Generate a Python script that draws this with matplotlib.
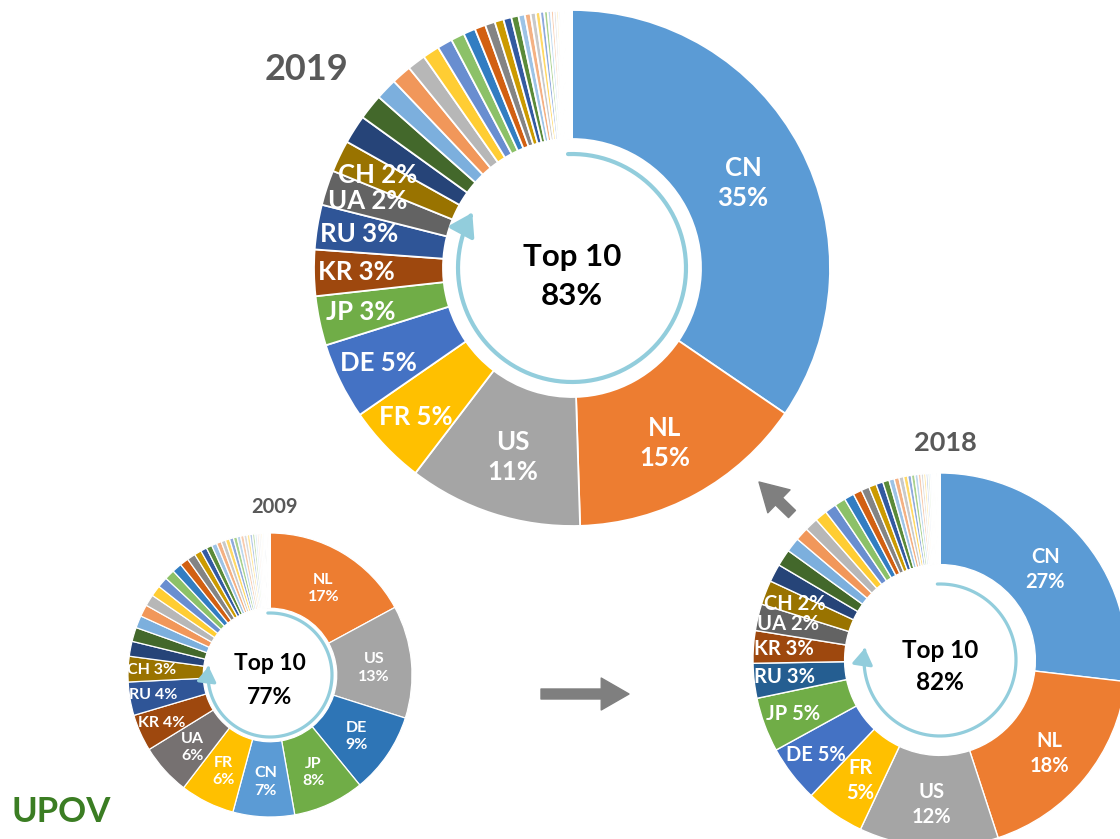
import matplotlib
matplotlib.use('Agg')
import matplotlib.pyplot as plt
import numpy as np
from matplotlib.patches import FancyArrowPatch
from matplotlib.path import Path

plt.rcParams['font.family'] = ['Lato', 'DejaVu Sans']

# ---- data (shares in %, clockwise from 12 o'clock) ----
codes_2019 = ['CN', 'NL', 'US', 'FR', 'DE', 'JP', 'KR', 'RU', 'UA', 'CH']
shares_2019 = [34.6, 15.0, 10.9, 5.0, 4.8, 3.1, 2.9, 2.8, 2.2, 2.0]
others_2019 = [1.8, 1.6, 1.35, 1.25, 1.15, 1.05, 0.95, 0.85, 0.75, 0.68, 0.62,
               0.56, 0.5, 0.45, 0.4, 0.36, 0.32, 0.28, 0.25, 0.22, 0.2, 0.18,
               0.16, 0.14, 0.12, 0.1, 0.09, 0.08, 0.07, 0.06, 0.05, 0.05, 0.04,
               0.04, 0.03, 0.03, 0.02, 0.02, 0.02, 0.01]
top10_2019 = 83

codes_2018 = ['CN', 'NL', 'US', 'FR', 'DE', 'JP', 'RU', 'KR', 'UA', 'CH']
shares_2018 = [26.8, 18.1, 12.0, 5.1, 4.9, 4.7, 3.0, 2.8, 2.3, 2.1]
others_2018 = [1.55, 1.45, 1.25, 1.15, 1.15, 1.05, 1.0, 0.95, 0.85, 0.75, 0.7,
               0.65, 0.6, 0.55, 0.45, 0.42, 0.4, 0.35, 0.32, 0.3, 0.28, 0.25,
               0.22, 0.2, 0.18, 0.16, 0.14, 0.12, 0.1, 0.09, 0.08, 0.07, 0.06,
               0.05, 0.04, 0.03, 0.03, 0.02, 0.02, 0.01]
top10_2018 = 82

codes_2009 = ['NL', 'US', 'DE', 'JP', 'CN', 'FR', 'UA', 'KR', 'RU', 'CH']
shares_2009 = [17.1, 12.8, 9.2, 8.1, 7.0, 6.2, 5.8, 4.2, 3.8, 2.9]
others_2009 = [1.7, 1.6, 1.4, 1.35, 1.3, 1.25, 1.2, 1.15, 1.1, 1.0, 0.95, 0.8,
               0.7, 0.65, 0.6, 0.55, 0.5, 0.48, 0.45, 0.42, 0.4, 0.38, 0.35,
               0.32, 0.3, 0.28, 0.25, 0.22, 0.2, 0.18, 0.16, 0.14, 0.12, 0.1,
               0.08, 0.07, 0.06, 0.05, 0.04, 0.03]
top10_2009 = 77

# colours of the top-10 slices
colors_2019 = ['#5B9BD5', '#ED7D31', '#A5A5A5', '#FFC000', '#4472C4', '#70AD47',
               '#9E480E', '#2F5597', '#636363', '#997300']
colors_2018 = ['#5B9BD5', '#ED7D31', '#A5A5A5', '#FFC000', '#4472C4', '#70AD47',
               '#255E91', '#9E480E', '#636363', '#997300']
colors_2009 = ['#ED7D31', '#A5A5A5', '#2E75B6', '#70AD47', '#5B9BD5', '#FFC000',
               '#767171', '#9E480E', '#2F5597', '#997300']
# office palette continuation for the rest
other_colors = ['#264478', '#43682B', '#7CAFDD', '#F1975A', '#B7B7B7', '#FFCD33',
                '#698ED0', '#8CC168', '#327DC2', '#D26012', '#848484', '#CC9A00',
                '#335AA1', '#5A8A39', '#9DC3E6', '#F4B183', '#C9C9C9', '#FFD966',
                '#8FAADC', '#A9D18E', '#BDD7EE', '#F8CBAD', '#DBDBDB', '#FFE699',
                '#B4C7E7', '#C5E0B4', '#DEEBF7', '#FBE5D6', '#EDEDED', '#FFF2CC',
                '#DAE3F3', '#E2F0D9']

W, H = 1120, 839
fig = plt.figure(figsize=(11.2, 8.39), dpi=100)
ax = fig.add_axes([0, 0, 1, 1])

RING = '#92CDDC'
GRAY_ARROW = '#7F7F7F'


def donut(codes, shares, others, top_colors, top10, cx, cy, r, inner, n_two,
          fs, lw, center_fs, txt_dy, ring_r, ring_end, ring_lw, head):
    cy = H - cy
    vals = list(shares) + list(others)
    cols = list(top_colors) + [other_colors[i % len(other_colors)] for i in range(len(others))]
    wedges, _ = ax.pie(vals, colors=cols, startangle=90, counterclock=False,
                       center=(cx, cy), radius=r,
                       wedgeprops=dict(width=r * (1 - inner), edgecolor='white', linewidth=lw))
    for i, code in enumerate(codes):
        w = wedges[i]
        mid = np.deg2rad((w.theta1 + w.theta2) / 2)
        pct = f'{shares[i]:.0f}%'
        if i < n_two:
            rr = r * (1 + inner) / 2
            label = f'{code}\n{pct}'
            dy = -0.02 * r
        else:
            rr = r * 0.835
            label = f'{code} {pct}'
            dy = 0
        ax.text(cx + rr * np.cos(mid), cy + rr * np.sin(mid) + dy, label, color='white',
                fontsize=fs, fontweight='bold', ha='center', va='center', linespacing=1.3)
    # centre text
    ax.text(cx, cy - txt_dy[0], 'Top 10', fontsize=center_fs, fontweight='bold',
            ha='center', va='center', color='black')
    ax.text(cx, cy - txt_dy[1], f'{top10}%', fontsize=center_fs, fontweight='bold',
            ha='center', va='center', color='black')
    # circular arrow
    ang = np.deg2rad(np.linspace(92, ring_end - 360, 200))
    pts = np.column_stack([cx + ring_r * np.cos(ang), cy + ring_r * np.sin(ang)])
    arr = FancyArrowPatch(path=Path(pts), arrowstyle='-|>,head_length=0.7,head_width=0.45',
                          mutation_scale=head, lw=ring_lw, color=RING)
    ax.add_patch(arr)


donut(codes_2019, shares_2019, others_2019, colors_2019, top10_2019,
      cx=572, cy=268, r=258, inner=0.5, n_two=3, fs=18.5, lw=1.3, center_fs=22.5,
      txt_dy=(-11, 28), ring_r=114, ring_end=151, ring_lw=3, head=19)
donut(codes_2018, shares_2018, others_2018, colors_2018, top10_2018,
      cx=940, cy=660, r=187, inner=0.51, n_two=4, fs=14.5, lw=1.0, center_fs=17.5,
      txt_dy=(-10, 22), ring_r=76, ring_end=171, ring_lw=2.3, head=14)
donut(codes_2009, shares_2009, others_2009, colors_2009, top10_2009,
      cx=270, cy=675, r=142, inner=0.47, n_two=7, fs=11.5, lw=0.9, center_fs=16.5,
      txt_dy=(-11, 22), ring_r=62, ring_end=172, ring_lw=2.3, head=13)

# year titles
ax.text(307, H - 70, '2019', fontsize=26, fontweight='bold', color='#595959', ha='center', va='center')
ax.text(945, H - 443, '2018', fontsize=19.5, fontweight='bold', color='#595959', ha='center', va='center')
ax.text(275, H - 507, '2009', fontsize=14.5, fontweight='bold', color='#595959', ha='center', va='center')

# gray transition arrows
arrow_kw = dict(arrowstyle='simple,head_width=1.15,head_length=1.0,tail_width=0.36',
                color=GRAY_ARROW, mutation_scale=20, shrinkA=0, shrinkB=0)
ax.annotate('', xy=(629, H - 694), xytext=(541, H - 694), arrowprops=arrow_kw)
ax.annotate('', xy=(759, H - 482), xytext=(792, H - 514), arrowprops=arrow_kw)

# UPOV logo
ax.text(12, H - 812, 'UPOV', fontsize=25, fontweight='bold', color='#3B7D23', ha='left', va='center')

ax.set_xlim(0, W)
ax.set_ylim(0, H)
ax.set_aspect('equal')
ax.axis('off')

fig.savefig('out.png', dpi=100, facecolor='white')
